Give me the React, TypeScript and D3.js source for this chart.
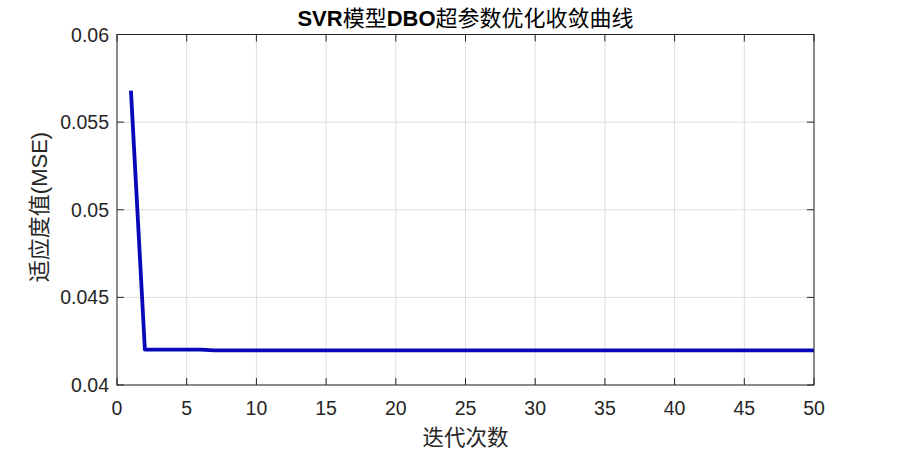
import React from "react";
import * as d3 from "d3";

const iterations = d3.range(1, 51);
const fitness: number[] = [
  0.05680, 0.04202, 0.04202, 0.04202, 0.04202, 0.04202,
  ...Array(44).fill(0.04198),
];
const xTicks = [0, 5, 10, 15, 20, 25, 30, 35, 40, 45, 50];
const yTicks = [0.04, 0.045, 0.05, 0.055, 0.06];
const yTickLabels = ["0.04", "0.045", "0.05", "0.055", "0.06"];
const titleParts: [string, boolean][] = [
  ["SVR", true],
  ["模型", false],
  ["DBO", true],
  ["超参数优化收敛曲线", false],
];
const xLabel = "迭代次数";
const yLabel = "适应度值(MSE)";

const W = 900, H = 450;
const L = 117, R = 814, T = 34.5, B = 385;

export default function App() {
  const x = d3.scaleLinear().domain([0, 50]).range([L, R]);
  const y = d3.scaleLinear().domain([0.04, 0.06]).range([B, T]);
  const line = d3
    .line<number>()
    .x((_, i) => x(iterations[i]))
    .y((d) => y(d));
  const tickFont = "'Liberation Sans', Arial, sans-serif";
  const mixFont = "'Liberation Sans', 'Noto Sans CJK SC', sans-serif";
  return (
    <svg width={W} height={H} style={{ position: "absolute", left: 0, top: 0, background: "#fff" }}>
      <rect x={0} y={0} width={W} height={H} fill="#fff" />
      {xTicks.map((t) => (
        <line key={"gx" + t} x1={x(t)} x2={x(t)} y1={T} y2={B} stroke="#dedede" strokeWidth={1} />
      ))}
      {yTicks.map((t) => (
        <line key={"gy" + t} x1={L} x2={R} y1={y(t)} y2={y(t)} stroke="#dedede" strokeWidth={1} />
      ))}
      <path d={line(fitness) || ""} fill="none" stroke="#0808b8" strokeWidth={3.8} strokeLinejoin="round" />
      <rect x={L} y={T} width={R - L} height={B - T} fill="none" stroke="#262626" strokeWidth={1} />
      {xTicks.map((t) => (
        <g key={"tx" + t}>
          <line x1={x(t)} x2={x(t)} y1={B} y2={B - 7} stroke="#262626" />
          <line x1={x(t)} x2={x(t)} y1={T} y2={T + 7} stroke="#262626" />
          <text x={x(t)} y={B + 30} textAnchor="middle" fontFamily={tickFont} fontSize={19.5} fill="#262626">
            {t}
          </text>
        </g>
      ))}
      {yTicks.map((t, i) => (
        <g key={"ty" + t}>
          <line x1={L} x2={L + 7} y1={y(t)} y2={y(t)} stroke="#262626" />
          <line x1={R} x2={R - 7} y1={y(t)} y2={y(t)} stroke="#262626" />
          <text x={L - 8} y={y(t) + 7} textAnchor="end" fontFamily={tickFont} fontSize={19.5} fill="#262626">
            {yTickLabels[i]}
          </text>
        </g>
      ))}
      <text x={(L + R) / 2} y={26} textAnchor="middle" fontFamily={mixFont} fontSize={22} fill="#000">
        {titleParts.map(([s, b], i) => (
          <tspan key={i} fontWeight={b ? "bold" : "normal"}>
            {s}
          </tspan>
        ))}
      </text>
      <text x={(L + R) / 2} y={445} textAnchor="middle" fontFamily={mixFont} fontSize={21.5} fill="#262626">
        {xLabel}
      </text>
      <text
        transform={`translate(47, 207) rotate(-90)`}
        textAnchor="middle"
        fontFamily={mixFont}
        fontSize={22}
        fill="#262626"
      >
        {yLabel}
      </text>
    </svg>
  );
}
